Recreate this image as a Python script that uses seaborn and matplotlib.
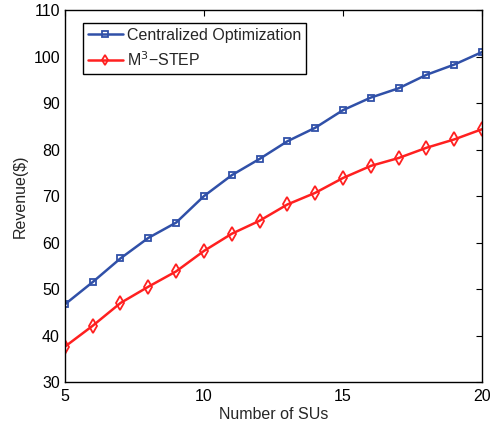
import matplotlib
matplotlib.use('Agg')
import matplotlib.pyplot as plt
import seaborn as sns
import pandas as pd

# Data
num_sus = list(range(5, 21))
centralized = [46.7, 51.5, 56.6, 61.0, 64.3, 70.0, 74.5, 78.0, 81.8, 84.7, 88.5, 91.2, 93.2, 96.1, 98.3, 101.0]
m3_step = [37.6, 42.1, 47.0, 50.5, 53.8, 58.2, 61.9, 64.7, 68.2, 70.7, 73.9, 76.5, 78.2, 80.4, 82.2, 84.4]

df = pd.DataFrame({'x': num_sus, 'Centralized Optimization': centralized, 'M$^3$\u2212STEP': m3_step})

sns.set_style('white')
plt.rcParams['font.family'] = ['Liberation Sans', 'DejaVu Sans']

fig = plt.figure(figsize=(4.95, 4.24), dpi=100)
ax = fig.add_axes([0.131, 0.099, 0.843, 0.877])

sns.lineplot(data=df, x='x', y='Centralized Optimization', ax=ax, color='#3050a8', marker='s',
             markersize=5, markerfacecolor='none', markeredgewidth=1.3, markeredgecolor='#3050a8',
             linewidth=1.8, label='Centralized Optimization')
sns.lineplot(data=df, x='x', y='M$^3$\u2212STEP', ax=ax, color='#ff2020', marker='d',
             markersize=7, markerfacecolor='none', markeredgewidth=1.3, markeredgecolor='#ff2020',
             linewidth=1.8, label='M$^3$\u2212STEP')

ax.set_xlim(5, 20)
ax.set_ylim(30, 110)
ax.set_xticks([5, 10, 15, 20])
ax.set_yticks(range(30, 111, 10))
ax.set_xlabel('Number of SUs', fontsize=11.5, labelpad=2)
ax.set_ylabel('Revenue($)', fontsize=11.5, labelpad=4)
ax.tick_params(direction='in', length=4, width=0.8, labelsize=11.5, top=True, right=True, colors='black')
ax.tick_params(axis='x', pad=5)
for s in ax.spines.values():
    s.set_color('black')
    s.set_linewidth(1.0)

leg = ax.legend(loc='upper left', bbox_to_anchor=(0.043, 0.965), fontsize=11.5, fancybox=False,
                framealpha=1, edgecolor='black', borderpad=0.3, handlelength=2.2,
                handletextpad=0.25, labelspacing=0.45, borderaxespad=0.0, markerscale=0.8)
leg.get_frame().set_linewidth(1.0)

fig.savefig('out.png', dpi=100)
